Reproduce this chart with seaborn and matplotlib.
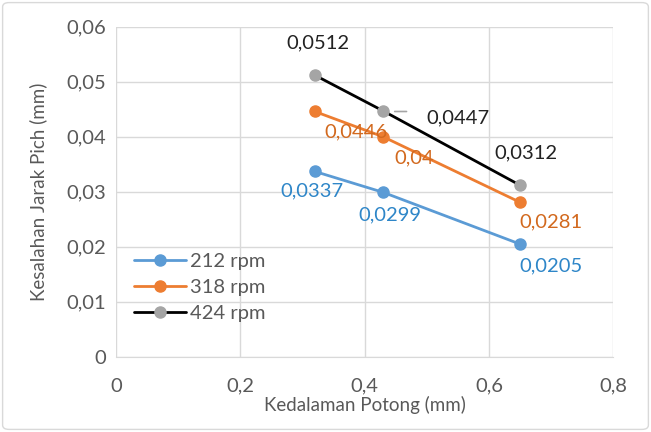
import pandas as pd
import matplotlib.pyplot as plt
import seaborn as sns
from matplotlib.patches import FancyBboxPatch

# data
depth = [0.32, 0.43, 0.65]
rpm_labels = ['212 rpm', '318 rpm', '424 rpm']
err_212 = [0.0337, 0.0299, 0.0205]
err_318 = [0.0446, 0.04, 0.0281]
err_424 = [0.0512, 0.0447, 0.0312]

df = pd.DataFrame({
    'depth': depth * 3,
    'err': err_212 + err_318 + err_424,
    'rpm': [rpm_labels[0]] * 3 + [rpm_labels[1]] * 3 + [rpm_labels[2]] * 3,
})

sns.set_style("white")
plt.rcParams['font.family'] = ['Lato', 'DejaVu Sans']

line_colors = {'212 rpm': '#5B9BD5', '318 rpm': '#ED7D31', '424 rpm': '#000000'}
marker_colors = {'212 rpm': '#5B9BD5', '318 rpm': '#ED7D31', '424 rpm': '#A5A5A5'}
label_colors = {'212 rpm': '#2E86C8', '318 rpm': '#D2691E', '424 rpm': '#222222'}

fig = plt.figure(figsize=(6.51, 4.32), dpi=100)
ax = fig.add_axes([0.178, 0.174, 0.764, 0.764])

sns.lineplot(data=df, x='depth', y='err', hue='rpm', palette=line_colors,
             linewidth=2, legend=False, ax=ax, zorder=3)
for name in rpm_labels:
    sub = df[df['rpm'] == name]
    ax.plot(sub['depth'], sub['err'], linestyle='none', marker='o', markersize=8,
            color=marker_colors[name], zorder=4)

# data labels (offsets in points)
offsets = {
    '212 rpm': [(-2, -14), (5, -16), (22, -16)],
    '318 rpm': [(30, -15), (22, -15), (22, -14)],
    '424 rpm': [(2, 23), (54, -5), (4, 23)],
}
for name in rpm_labels:
    sub = df[df['rpm'] == name]
    for (x, y), off in zip(zip(sub['depth'], sub['err']), offsets[name]):
        ax.annotate(f'{y:g}'.replace('.', ','), (x, y), xytext=off,
                    textcoords='offset points', ha='center', va='center',
                    fontsize=14.5, color=label_colors[name], zorder=5)
# short leader line for 0,0447
ax.annotate('', xy=(0.444, 0.0446), xytext=(0.472, 0.0446),
            arrowprops=dict(arrowstyle='-', color='#A5A5A5', lw=1.2))

ax.set_xlim(0, 0.8)
ax.set_ylim(0, 0.06)
ax.set_xticks([0, 0.2, 0.4, 0.6, 0.8])
ax.set_yticks([0, 0.01, 0.02, 0.03, 0.04, 0.05, 0.06])
ax.set_xticklabels(['0', '0,2', '0,4', '0,6', '0,8'])
ax.set_yticklabels(['0', '0,01', '0,02', '0,03', '0,04', '0,05', '0,06'])
ax.tick_params(axis='both', length=0, labelsize=14.5, colors='#595959')
ax.tick_params(axis='x', pad=15)
ax.tick_params(axis='y', pad=7)
ax.grid(True, color='#D9D9D9', linewidth=1)
ax.set_axisbelow(True)
for side in ['top', 'right', 'left']:
    ax.spines[side].set_visible(False)
ax.spines['bottom'].set_color('#D9D9D9')

ax.set_xlabel('Kedalaman Potong (mm)', fontsize=13.5, color='#595959', labelpad=1)
ax.set_ylabel('Kesalahan Jarak Pich (mm)', fontsize=13.5, color='#595959', labelpad=14)

handles = [plt.Line2D([], [], color=line_colors[n], lw=2, marker='o', markersize=8,
                      markerfacecolor=marker_colors[n], markeredgecolor=marker_colors[n])
           for n in rpm_labels]
leg = ax.legend(handles, rpm_labels, loc='lower left', bbox_to_anchor=(0.0, 0.05),
                frameon=False, fontsize=14.5, handlelength=2.6, labelspacing=0.45,
                handletextpad=0.2)
for t in leg.get_texts():
    t.set_color('#595959')

# outer chart border
fig.patches.append(FancyBboxPatch((0.004, 0.006), 0.992, 0.988,
                                  boxstyle='round,pad=0,rounding_size=0.01',
                                  transform=fig.transFigure, fill=False,
                                  edgecolor='#D9D9D9', linewidth=1))

fig.savefig('out.png', dpi=100)
